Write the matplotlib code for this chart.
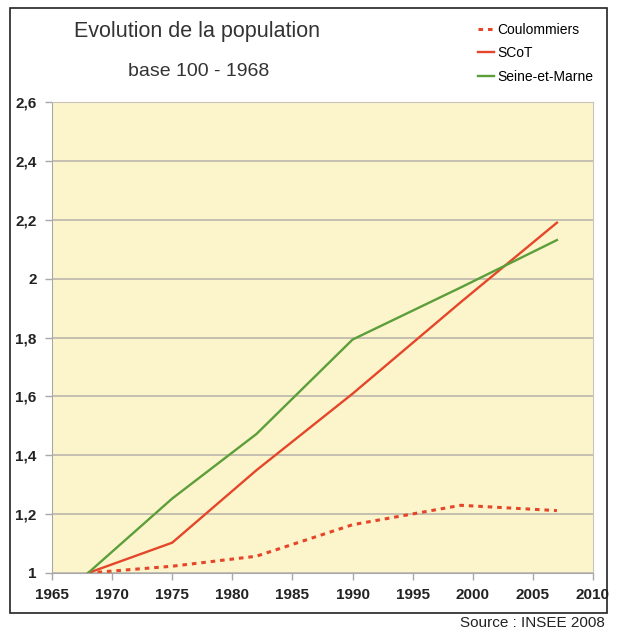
import matplotlib
matplotlib.use("Agg")
import matplotlib.pyplot as plt
from matplotlib.patches import Rectangle
from matplotlib.ticker import FuncFormatter

# data (base 1 = 1968)
years = [1968, 1975, 1982, 1990, 1999, 2007]
coulommiers = [1.0, 1.023, 1.057, 1.164, 1.23, 1.212]
scot = [1.0, 1.103, 1.349, 1.609, 1.92, 2.19]
seine_et_marne = [1.0, 1.253, 1.472, 1.793, 1.97, 2.131]

x_ticks = list(range(1965, 2011, 5))
y_ticks = [1.0, 1.2, 1.4, 1.6, 1.8, 2.0, 2.2, 2.4, 2.6]

RED = "#e5462a"
GREEN = "#5c9e3a"
BG = "#fcf5cb"
GRID = "#b5b0a8"

plt.rcParams["font.family"] = ["Liberation Sans", "DejaVu Sans"]

W, H = 617, 633
fig = plt.figure(figsize=(W / 100, H / 100), dpi=100)

# outer frame of the graphic
fig.patches.append(Rectangle((10 / W, 1 - 613 / H), 597 / W, 605 / H,
                             transform=fig.transFigure, fill=False,
                             edgecolor="#222222", lw=1.2))

ax = fig.add_axes([52 / W, 1 - 573 / H, (593 - 52) / W, (573 - 102) / H])
ax.set_facecolor(BG)

ax.plot(years, coulommiers, color=RED, lw=2.2, ls=(0, (1.5, 1.6)), label="Coulommiers")
ax.plot(years, scot, color=RED, lw=1.7, label="SCoT")
ax.plot(years, seine_et_marne, color=GREEN, lw=1.7, label="Seine-et-Marne")

ax.set_xlim(1965, 2010)
ax.set_ylim(1.0, 2.6)
ax.set_xticks(x_ticks)
ax.set_yticks(y_ticks)
ax.yaxis.set_major_formatter(FuncFormatter(lambda v, p: f"{v:g}".replace(".", ",")))
ax.grid(axis="y", color=GRID, lw=1.1)
ax.set_axisbelow(True)
for s in ax.spines.values():
    s.set_color("#c8c4bc")
ax.spines["left"].set_color("#a8a8a8")
ax.spines["bottom"].set_color("#a8a8a8")
ax.tick_params(colors="#a8a8a8", length=5, width=1, labelcolor="#222222",
               labelsize=11)
ax.tick_params(axis="x", pad=6)
ax.tick_params(axis="y", pad=6)
for lab in ax.get_xticklabels() + ax.get_yticklabels():
    lab.set_fontweight("bold")

fig.text(197 / W, 1 - 32 / H, "Evolution de la population", ha="center", va="center",
         fontsize=15.5, color="#333333")
fig.text(199 / W, 1 - 72 / H, "base 100 - 1968", ha="center", va="center",
         fontsize=14, color="#333333")

fig.legend(loc="upper left", bbox_to_anchor=(472 / W, 1 - 17 / H), frameon=False,
           fontsize=10, handlelength=1.2, handletextpad=0.2, labelspacing=0.7,
           borderaxespad=0)

fig.text(605 / W, 1 - 623 / H, "Source : INSEE 2008", ha="right", va="center",
         fontsize=11, color="#222222")

fig.savefig("out.png", dpi=100)
